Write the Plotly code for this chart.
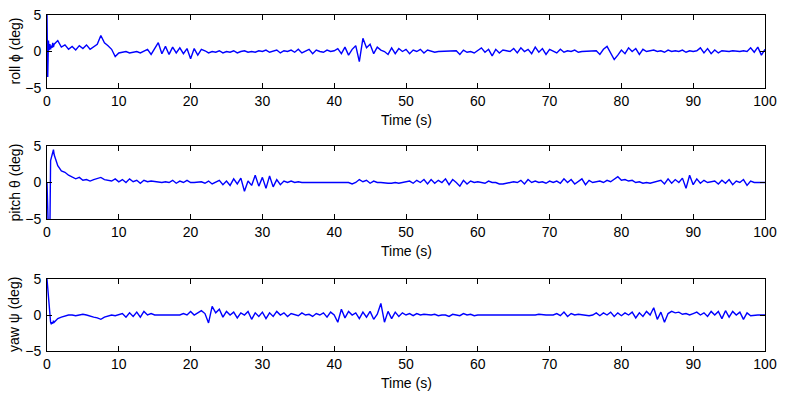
import plotly.graph_objects as go

# time grid (s)
t_early = [0.0, 0.1, 0.2, 0.3, 0.4, 0.5, 0.6, 0.7, 0.8, 0.9, 1.0]
t_main = [1.5 + 0.5 * i for i in range(198)]
time_s = t_early + t_main

roll_deg = (
    [5, -3.5, 1.5, 0.2, 1.0, 0.3, 0.8, 0.5, 1.2, 0.6, 1.0]
    + [1.5, 0.6, 0.9, 0.3, 0.7, 0.2, 0.8, 0.4, 0.9, 0.3, 0.7, 1.0, 2.2, 1.2, 0.8, 0.3, -0.7, -0.2]
    + [-0.1, 0.0, -0.2, -0.1, 0.0, -0.2, 0.1, 0.3, -0.4, 0.5, 1.2, -0.3, 0.7, -0.4, 0.6, -0.2, 0.5, -0.3, 0.4, -1.0]
    + [0.4, -0.5, 0.3, 0.1, -0.2, 0.0, -0.1, 0.1, -0.2, 0.0, -0.1, 0.1, -0.2, 0.0, 0.1, -0.1, 0.0, -0.1, 0.1, 0.0]
    + [0.2, -0.1, 0.0, 0.2, -0.2, 0.1, 0.0, 0.2, -0.1, 0.3, -0.2, 0.0, 0.3, -0.3, 0.2, 0.0, -0.1, 0.2, 0.0, 0.1]
    + [0.4, -0.3, 0.6, -0.5, 0.3, 0.8, -1.4, 1.8, 0.5, 1.0, -0.3, 0.6, 0.2, 0.0, -0.4, 0.5, -0.3, 0.4, 0.0, 0.3]
    + [-0.3, 0.2, 0.0, 0.3, -0.2, 0.2, 0.0, -0.1, 0.0, 0.0, 0.1, 0.0, 0.0, 0.1, -0.4, 0.2, -0.1, 0.0, -0.2, 0.1]
    + [0.5, -0.1, 0.3, -0.6, 0.3, -0.2, 0.2, 0.1, 0.0, 0.4, -0.2, 0.5, 0.0, 0.3, -0.3, 0.6, -0.1, 0.4, -0.4, 0.3]
    + [0.1, -0.2, 0.3, -0.1, 0.1, 0.0, 0.2, -0.1, 0.0, 0.0, 0.1, 0.0, 0.1, -0.4, 0.3, 0.7, -0.3, -1.1, -0.5, 0.2]
    + [-0.3, 0.5, 0.0, 0.4, -0.4, 0.3, 0.0, 0.1, 0.2, 0.0, 0.1, -0.1, 0.2, 0.0, 0.1, 0.0, 0.2, -0.1, 0.1, 0.0]
    + [0.1, 0.5, -0.2, 0.4, -0.3, 0.2, -0.2, 0.1, 0.0, 0.0, 0.1, 0.0, 0.0, 0.1, 0.0, 0.5, -0.1, 0.6, -0.5, 0.3]
)

pitch_deg = (
    [0, -7, -7, -7, -7, 3.0, 3.5, 3.8, 4.2, 4.5, 3.8]
    + [2.3, 1.6, 1.4, 1.0, 0.8, 0.5, 0.7, 0.3, 0.4, 0.2, 0.4, 0.6, 0.7, 0.4, 0.3, 0.2, 0.5, 0.1]
    + [0.4, 0.0, 0.5, 0.1, 0.3, -0.1, 0.3, 0.1, 0.2, 0.1, 0.1, 0.0, 0.1, 0.0, 0.3, -0.1, 0.2, 0.0, 0.3, 0.0]
    + [0.0, 0.0, 0.1, -0.1, 0.2, -0.2, 0.1, 0.3, -0.3, 0.2, -0.4, 0.5, -0.2, 0.6, -1.2, 0.2, -0.4, 1.0, -0.5, 0.7]
    + [-0.8, 0.9, -0.6, 0.4, -0.3, 0.2, 0.0, 0.2, 0.0, 0.1, 0.0, 0.0, 0.0, 0.0, -0.1, 0.0, 0.0, 0.0, -0.1, 0.0]
    + [0.0, 0.0, -0.1, 0.0, -0.2, 0.0, 0.4, 0.1, 0.3, -0.1, 0.2, 0.0, 0.0, -0.1, -0.1, -0.1, 0.0, -0.1, 0.0, 0.0]
    + [0.2, -0.1, 0.3, 0.0, 0.4, -0.2, 0.4, -0.1, 0.3, 0.0, 0.5, -0.3, 0.4, 0.0, -0.5, 0.3, -0.2, 0.2, 0.0, 0.1]
    + [0.0, -0.1, 0.2, 0.0, 0.0, -0.2, -0.2, -0.1, 0.0, 0.1, 0.0, 0.3, -0.2, 0.4, 0.0, 0.2, 0.0, 0.1, -0.1, 0.2]
    + [0.0, 0.2, -0.1, 0.5, 0.0, 0.4, -0.2, 0.2, 0.5, -0.3, 0.3, 0.0, 0.1, 0.2, 0.0, 0.3, 0.1, 0.4, 0.8, 0.3]
    + [0.4, 0.2, 0.3, 0.0, 0.1, -0.1, 0.0, -0.1, 0.0, 0.1, 0.3, -0.2, 0.5, -0.1, 0.4, 0.0, 0.6, -0.8, 1.0, -0.3]
    + [0.5, -0.1, 0.3, 0.0, 0.1, 0.2, -0.2, 0.3, -0.1, 0.4, -0.3, 0.2, 0.0, 0.4, -0.4, 0.2, 0.0, 0.0, 0.0, 0.0]
)

yaw_deg = (
    [5, 3.5, 2.0, 0.5, -0.3, -1.0, -1.3, -1.0, -1.2, -0.8, -1.0]
    + [-0.5, -0.3, -0.1, 0.0, 0.0, -0.1, 0.0, 0.1, 0.0, -0.2, -0.3, -0.4, -0.6, -0.3, -0.2, 0.0, -0.1, 0.0]
    + [0.2, -0.3, 0.3, -0.2, 0.4, -0.3, 0.5, 0.0, 0.2, 0.0, 0.0, 0.0, 0.0, 0.0, 0.0, -0.1, 0.0, 0.2, 0.0, 0.5]
    + [0.0, 0.3, 0.6, 0.2, -1.1, 1.2, 0.3, 0.8, -0.3, 0.5, 0.0, 0.4, -0.4, 0.3, 0.0, 0.5, -0.6, 0.3, -0.2, 0.4]
    + [-0.5, 0.3, -0.2, 0.5, 0.0, 0.3, -0.2, 0.2, 0.1, -0.1, 0.3, 0.0, 0.1, -0.2, 0.2, 0.0, 0.3, -0.3, 0.4, 0.0]
    + [-1.0, 0.8, -0.4, 0.5, 0.0, 0.3, -0.5, 0.4, -0.3, 0.5, -0.6, 0.1, 1.6, -1.0, 0.5, -0.5, 0.4, -0.2, 0.3, 0.0]
    + [0.2, -0.1, 0.2, 0.0, 0.1, 0.0, 0.0, 0.1, -0.1, 0.0, 0.0, -0.2, 0.1, 0.0, -0.1, 0.2, 0.0, 0.1, -0.1, 0.0]
    + [0.0, 0.0, 0.0, -0.1, 0.0, 0.0, 0.0, 0.0, 0.0, 0.0, 0.0, 0.0, 0.0, -0.1, 0.0, 0.0, 0.1, 0.0, 0.0, 0.0]
    + [0.0, 0.2, -0.1, 0.4, -0.2, 0.2, 0.0, 0.1, 0.0, 0.0, -0.1, 0.0, 0.3, -0.1, 0.3, 0.0, 0.4, -0.2, 0.3, -0.1]
    + [0.3, 0.0, 0.4, -0.4, 0.3, -0.2, 0.5, 0.0, 1.0, -0.6, 0.4, -1.0, 0.2, 0.5, 0.3, 0.4, 0.1, 0.2, 0.0, 0.2]
    + [0.4, 0.0, 0.3, -0.2, 0.5, 0.0, 0.5, -0.5, 0.6, -0.3, 0.5, 0.0, 0.4, -0.6, 0.3, -0.1, 0.0, 0.0, 0.0, 0.0]
)

series = [roll_deg, pitch_deg, yaw_deg]
y_titles = ["roll \u03d5 (deg)", "pitch \u03b8 (deg)", "yaw \u03c8 (deg)"]
x_ticks = [0, 10, 20, 30, 40, 50, 60, 70, 80, 90, 100]
y_ticks = [-5, 0, 5]
x_title = "Time (s)"

W, H = 786, 394
x_left, x_right = 47, 765
panels_px = [(15, 88), (146, 219), (279, 351)]  # top, bottom pixel rows

FONT = "Liberation Sans, Arial, sans-serif"
fig = go.Figure()
annotations = []
for i, (vals, (top, bot)) in enumerate(zip(series, panels_px)):
    n = i + 1
    xa = "x" if n == 1 else f"x{n}"
    ya = "y" if n == 1 else f"y{n}"
    fig.add_trace(go.Scatter(x=time_s, y=vals, mode="lines",
                             line=dict(color="#0000ff", width=1.4),
                             xaxis=xa, yaxis=ya, showlegend=False))
    axcommon = dict(showline=True, linecolor="black", linewidth=1, mirror="allticks",
                    ticks="inside", ticklen=5, tickcolor="black", showgrid=False,
                    zeroline=False, automargin=False,
                    tickfont=dict(family=FONT, size=14, color="black"))
    fig.layout[f"xaxis{'' if n == 1 else n}"] = dict(
        axcommon, domain=[x_left / W, x_right / W], range=[0, 100],
        tickvals=x_ticks, anchor=ya)
    fig.layout[f"yaxis{'' if n == 1 else n}"] = dict(
        axcommon, domain=[1 - bot / H, 1 - top / H], range=[-5, 5],
        tickvals=y_ticks, anchor=xa, ticklabelstandoff=2)
    annotations.append(dict(text=y_titles[i], x=14 / W, y=1 - (top + bot) / 2 / H,
                            xref="paper", yref="paper", textangle=-90, showarrow=False,
                            font=dict(family=FONT, size=14, color="black"),
                            xanchor="center", yanchor="middle"))
    annotations.append(dict(text=x_title, x=(x_left + x_right) / 2 / W, y=1 - (bot + 32) / H,
                            xref="paper", yref="paper", showarrow=False,
                            font=dict(family=FONT, size=14, color="black"),
                            xanchor="center", yanchor="middle"))

fig.update_layout(width=W, height=H, margin=dict(l=0, r=0, t=0, b=0, autoexpand=False),
                  paper_bgcolor="white", plot_bgcolor="white",
                  annotations=annotations)
fig.write_html("out.html")
